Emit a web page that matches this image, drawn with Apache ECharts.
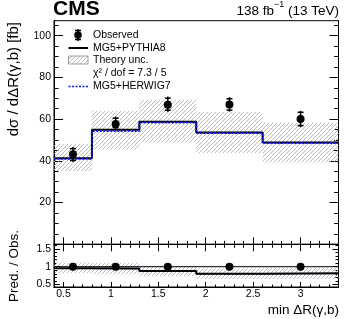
<!DOCTYPE html>
<html><head><meta charset="utf-8">
<script src="https://cdn.jsdelivr.net/npm/echarts@6/dist/echarts.min.js"></script>
<style>html,body{margin:0;padding:0;background:#fff}#c{width:349px;height:319px}</style>
</head><body><div id="c"></div>
<script>
// ---- data ----
const binEdges = [0.4, 0.8, 1.3, 1.9, 2.6, 3.4];
const binCenters = [0.6, 1.05, 1.6, 2.25, 3.0];
const observed = [43.2, 57.7, 66.9, 67.0, 60.1];
const obsErrUp = [3.4, 3.5, 3.9, 3.5, 3.9];
const obsErrDown = [3.7, 2.5, 3.3, 3.4, 3.9];
const pythia8 = [41.3, 54.9, 58.7, 53.6, 48.8];
const herwig7 = [41.0, 54.3, 58.3, 53.3, 48.5];
const theoryLo = [35.2, 45.6, 48.8, 43.7, 39.2];
const theoryHi = [48.2, 64.0, 69.3, 63.4, 58.1];
const ratioObs = [1, 1, 1, 1, 1];
const ratioPythia8 = [0.956, 0.951, 0.877, 0.800, 0.812];
const ratioHerwig7 = [0.949, 0.941, 0.871, 0.796, 0.807];
const ratioTheoryLo = [0.815, 0.790, 0.729, 0.652, 0.652];
const ratioTheoryHi = [1.116, 1.109, 1.036, 0.946, 0.967];
const xMajorTicks = [0.5, 1, 1.5, 2, 2.5, 3];
const mainYTicks = [0, 20, 40, 60, 80, 100];
const mainYLabels = [20, 40, 60, 80, 100];
const ratioYTicks = [0.5, 1, 1.5];

const xMinorTicks = [];
for (let i = 4; i <= 34; i++) xMinorTicks.push(i / 10);
const ratioYMinor = [];
for (let i = 5; i <= 16; i++) ratioYMinor.push(i / 10);
const mainYMinor = [];
for (let i = 0; i <= 105; i += 5) mainYMinor.push(i);

// hatch pattern
const pc = document.createElement('canvas');
pc.width = 4; pc.height = 4;
const g = pc.getContext('2d');
g.strokeStyle = '#b4b4b4'; g.lineWidth = 0.9;
g.beginPath(); g.moveTo(0, 4); g.lineTo(4, 0); g.stroke();
g.beginPath(); g.moveTo(-1, 1); g.lineTo(1, -1); g.stroke();
g.beginPath(); g.moveTo(3, 5); g.lineTo(5, 3); g.stroke();
const hatch = { image: pc, repeat: 'repeat' };

function stepData(vals) {
  const d = vals.map((v, i) => [binEdges[i], v]);
  d.push([binEdges[binEdges.length - 1], vals[vals.length - 1]]);
  return d;
}
function bandData(lo, hi) {
  return lo.map((v, i) => [binEdges[i], binEdges[i + 1], v, hi[i]]);
}
function bandRender(params, api) {
  const p1 = api.coord([api.value(0), api.value(3)]);
  const p2 = api.coord([api.value(1), api.value(2)]);
  return { type: 'rect', shape: { x: p1[0], y: p1[1], width: p2[0] - p1[0], height: p2[1] - p1[1] },
    style: { fill: hatch }, silent: true };
}
function errRender(params, api) {
  const x = api.value(0), lo = api.value(2), hi = api.value(3);
  const t = api.coord([x, hi]), b = api.coord([x, lo]);
  const st = { stroke: '#000', lineWidth: 1.5 };
  return { type: 'group', children: [
    { type: 'line', shape: { x1: t[0], y1: t[1], x2: b[0], y2: b[1] }, style: st },
    { type: 'line', shape: { x1: t[0] - 3, y1: t[1] + 1.5, x2: t[0] + 3, y2: t[1] + 1.5 }, style: st },
    { type: 'line', shape: { x1: b[0] - 3, y1: b[1] - 1.5, x2: b[0] + 3, y2: b[1] - 1.5 }, style: st }
  ]};
}
const errData = binCenters.map((x, i) => [x, observed[i], observed[i] - obsErrDown[i], observed[i] + obsErrUp[i]]);

const F = 'Liberation Sans, Arial, sans-serif';
const gridMain = { left: 54, top: 20.7, right: 10.5, height: 223.6, show: true, borderColor: '#000', borderWidth: 1 };
const gridRatio = { left: 54, top: 244.3, right: 10.5, height: 42.7, show: true, borderColor: '#000', borderWidth: 1 };

function xAx(grid, pos, vals, len, labels) {
  return { type: 'value', gridIndex: grid, position: pos, min: 0.4, max: 3.4,
    axisLine: { show: true, lineStyle: { color: '#000', width: 1 } },
    axisTick: { show: true, inside: true, length: len, customValues: vals, lineStyle: { color: '#000' } },
    axisLabel: labels ? { show: true, customValues: labels, color: '#000', fontSize: 10.5, fontFamily: F, margin: 2 } : { show: false },
    splitLine: { show: false } };
}
function yAx(grid, pos, vals, len, labels, min, max) {
  return { type: 'value', gridIndex: grid, position: pos, min: min, max: max,
    axisLine: { show: true, lineStyle: { color: '#000', width: 1 } },
    axisTick: { show: true, inside: true, length: len, customValues: vals, lineStyle: { color: '#000' } },
    axisLabel: labels ? { show: true, customValues: labels, color: '#000', fontSize: 10.5, fontFamily: F, margin: 3 } : { show: false },
    splitLine: { show: false } };
}

const option = {
  animation: false,
  backgroundColor: '#fff',
  grid: [gridMain, gridRatio],
  xAxis: [
    xAx(0, 'bottom', xMajorTicks, 7, null),
    xAx(0, 'bottom', xMinorTicks, 3.5, null),
    xAx(0, 'top', xMajorTicks, 7, null),
    xAx(0, 'top', xMinorTicks, 3.5, null),
    xAx(1, 'bottom', xMajorTicks, 5, xMajorTicks),
    xAx(1, 'bottom', xMinorTicks, 2.5, null)
  ],
  yAxis: [
    yAx(0, 'left', mainYTicks, 9, mainYLabels, 0, 107.2),
    yAx(0, 'left', mainYMinor, 4.5, null, 0, 107.2),
    yAx(0, 'right', mainYTicks, 9, null, 0, 107.2),
    yAx(0, 'right', mainYMinor, 4.5, null, 0, 107.2),
    yAx(1, 'left', ratioYTicks, 6, ratioYTicks, 0.427, 1.633),
    yAx(1, 'left', ratioYMinor, 3, null, 0.427, 1.633),
    yAx(1, 'right', ratioYTicks, 6, null, 0.427, 1.633),
    yAx(1, 'right', ratioYMinor, 3, null, 0.427, 1.633)
  ],
  series: [
    { type: 'custom', xAxisIndex: 0, yAxisIndex: 0, renderItem: bandRender, data: bandData(theoryLo, theoryHi), z: 1 },
    { type: 'line', xAxisIndex: 0, yAxisIndex: 0, step: 'end', data: stepData(pythia8), showSymbol: false,
      lineStyle: { color: '#000', width: 2 }, z: 3 },
    { type: 'line', xAxisIndex: 0, yAxisIndex: 0, step: 'end', data: stepData(herwig7), showSymbol: false,
      lineStyle: { color: '#1414ff', width: 1.8, type: [2, 1.5] }, z: 4 },
    { type: 'custom', xAxisIndex: 0, yAxisIndex: 0, renderItem: errRender, data: errData, z: 5 },
    { type: 'scatter', xAxisIndex: 0, yAxisIndex: 0, data: binCenters.map((x, i) => [x, observed[i]]),
      symbol: 'circle', symbolSize: 8, itemStyle: { color: '#000', opacity: 1 }, z: 6 },

    { type: 'custom', xAxisIndex: 4, yAxisIndex: 4, renderItem: bandRender, data: bandData(ratioTheoryLo, ratioTheoryHi), z: 1 },
    { type: 'line', xAxisIndex: 4, yAxisIndex: 4, data: [[0.4, 1], [3.4, 1]], showSymbol: false,
      lineStyle: { color: '#000', width: 1 }, z: 2 },
    { type: 'line', xAxisIndex: 4, yAxisIndex: 4, step: 'end', data: stepData(ratioPythia8), showSymbol: false,
      lineStyle: { color: '#000', width: 2 }, z: 3 },
    { type: 'line', xAxisIndex: 4, yAxisIndex: 4, step: 'end', data: stepData(ratioHerwig7), showSymbol: false,
      lineStyle: { color: '#1414ff', width: 1.2, type: [2, 1.5] }, z: 2 },
    { type: 'scatter', xAxisIndex: 4, yAxisIndex: 4, data: binCenters.map((x, i) => [x, ratioObs[i]]),
      symbol: 'circle', symbolSize: 8, itemStyle: { color: '#000', opacity: 1 }, z: 6 }
  ],
  graphic: [
    { type: 'text', style: { text: 'CMS', x: 53, y: 20, font: 'bold 21px ' + F, fill: '#000', verticalAlign: 'bottom', align: 'left' } },
    { type: 'text', style: { text: '{n|138 fb}{s|−1}{n| (13 TeV)}', x: 339, y: 18, fill: '#000', align: 'right', verticalAlign: 'bottom',
      rich: { n: { fontSize: 13.5, fontFamily: F, lineHeight: 18, verticalAlign: 'bottom' },
              s: { fontSize: 9, fontFamily: F, verticalAlign: 'top', lineHeight: 10 } } } },
    { type: 'text', rotation: Math.PI / 2, x: 14, y: 22, style: { text: 'dσ / dΔR(γ,b) [fb]', font: '15px ' + F, fill: '#000', align: 'right', verticalAlign: 'middle' } },
    { type: 'text', rotation: Math.PI / 2, x: 14, y: 266, style: { text: 'Pred. / Obs.', font: '13.5px ' + F, fill: '#000', align: 'center', verticalAlign: 'middle' } },
    { type: 'text', style: { text: 'min ΔR(γ,b)', x: 339, y: 310, font: '13.5px ' + F, fill: '#000', align: 'right', verticalAlign: 'middle' } },

    // legend
    { type: 'line', shape: { x1: 78, y1: 29, x2: 78, y2: 41 }, style: { stroke: '#000', lineWidth: 1.5 } },
    { type: 'line', shape: { x1: 75, y1: 30.5, x2: 81, y2: 30.5 }, style: { stroke: '#000', lineWidth: 1.5 } },
    { type: 'line', shape: { x1: 75, y1: 39.5, x2: 81, y2: 39.5 }, style: { stroke: '#000', lineWidth: 1.5 } },
    { type: 'circle', shape: { cx: 78, cy: 35, r: 3.8 }, style: { fill: '#000' } },
    { type: 'text', style: { text: 'Observed', x: 93, y: 35, font: '10.5px ' + F, fill: '#000', verticalAlign: 'middle' } },
    { type: 'line', shape: { x1: 68.5, y1: 48, x2: 88, y2: 48 }, style: { stroke: '#000', lineWidth: 2 } },
    { type: 'text', style: { text: 'MG5+PYTHIA8', x: 93, y: 48, font: '10.5px ' + F, fill: '#000', verticalAlign: 'middle' } },
    { type: 'rect', shape: { x: 68.5, y: 56, width: 19.5, height: 8 }, style: { fill: hatch, stroke: '#888', lineWidth: 0.8 } },
    { type: 'text', style: { text: 'Theory unc.', x: 93, y: 60.5, font: '10.5px ' + F, fill: '#000', verticalAlign: 'middle' } },
    { type: 'text', style: { text: 'χ² / dof = 7.3 / 5', x: 93, y: 73.5, font: '10.5px ' + F, fill: '#000', verticalAlign: 'middle' } },
    { type: 'line', shape: { x1: 68.5, y1: 86.5, x2: 88, y2: 86.5 }, style: { stroke: '#1414ff', lineWidth: 1.5, lineDash: [2, 1.5] } },
    { type: 'text', style: { text: 'MG5+HERWIG7', x: 93, y: 86.5, font: '10.5px ' + F, fill: '#000', verticalAlign: 'middle' } }
  ]
};
const chart = echarts.init(document.getElementById('c'), null, { renderer: 'canvas' });
chart.setOption(option);
</script></body></html>
